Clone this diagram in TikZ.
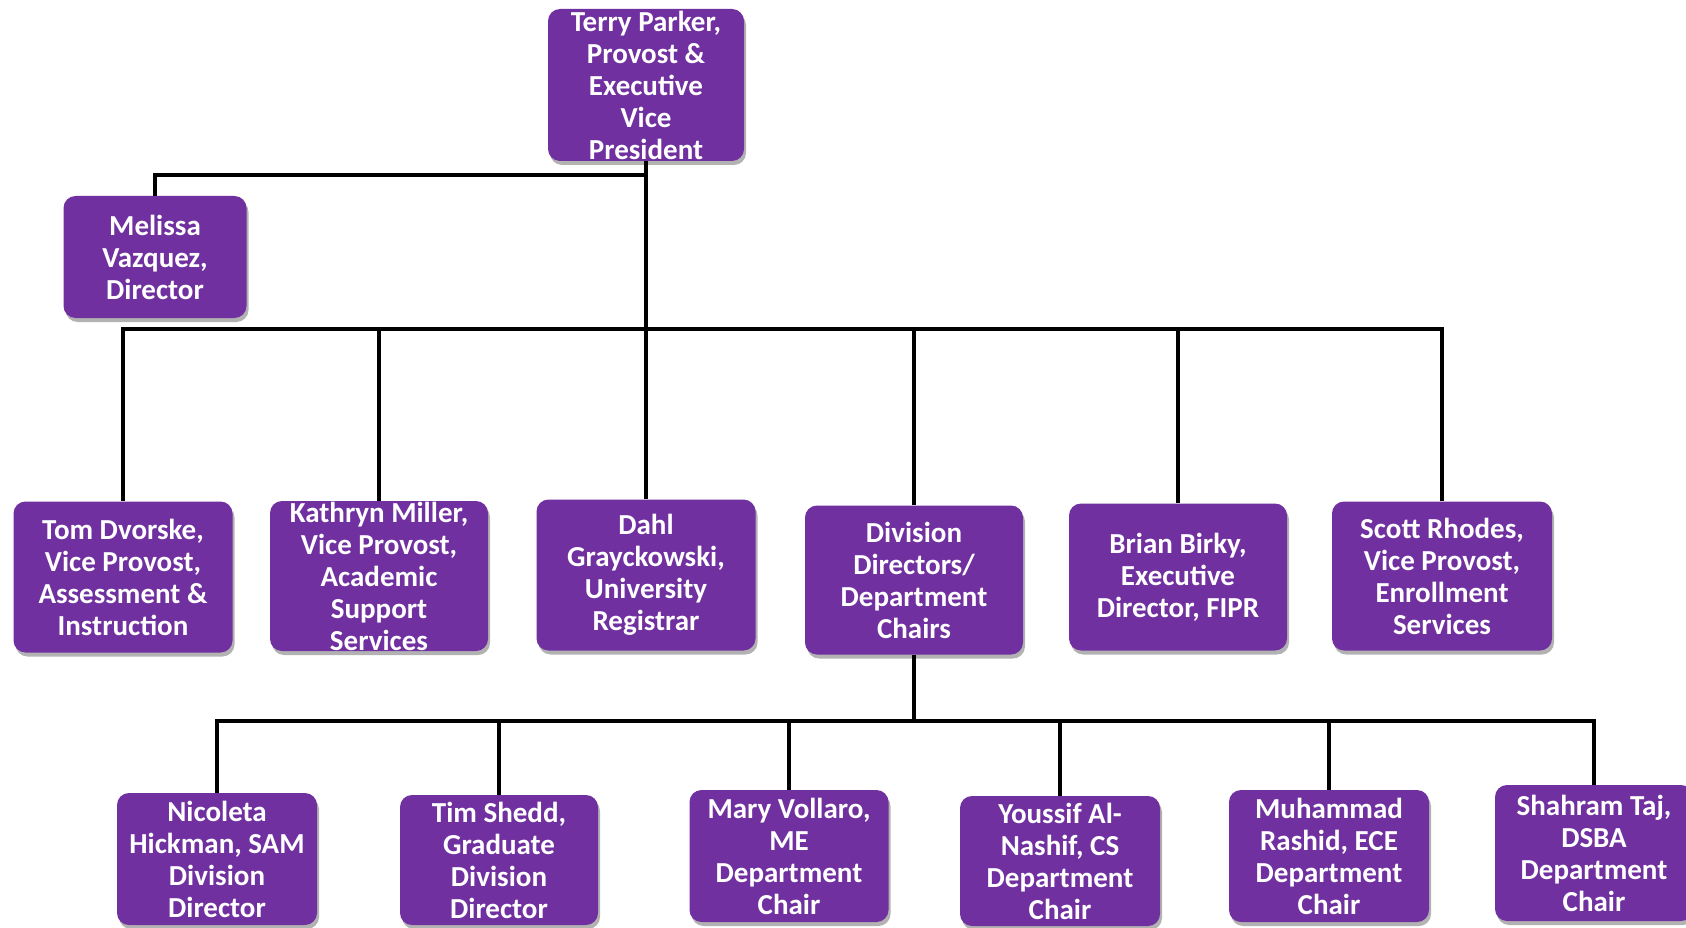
\documentclass[tikz,border=0pt]{standalone}
\usepackage{fontspec}
\setmainfont{Carlito}
\usetikzlibrary{shadows,backgrounds}
\definecolor{boxpurple}{RGB}{112,48,160}
\tikzset{
  orgbox/.style={draw=none, fill=boxpurple, rounded corners=12pt, text=white,
    font=\fontsize{29}{32}\selectfont\bfseries, align=center, inner sep=0pt,
    drop shadow={shadow xshift=2pt, shadow yshift=-4pt, fill=black, opacity=0.3}},
  link/.style={draw=black, line width=3.2pt}
}
\begin{document}
\begin{tikzpicture}[x=1pt,y=-1pt]
\useasboundingbox (0,0) rectangle (1686,928);
% level 0/1
\node[orgbox, minimum width=196pt, minimum height=152pt] (terry) at (646,85) {Terry Parker,\\Provost \&\\Executive\\Vice\\President};
\node[orgbox, minimum width=183pt, minimum height=122pt] (melissa) at (155,257) {Melissa\\Vazquez,\\Director};
% level 2
\node[orgbox, minimum width=219pt, minimum height=151pt] (tom) at (123,577) {Tom Dvorske,\\Vice Provost,\\Assessment \&\\Instruction};
\node[orgbox, minimum width=218pt, minimum height=150pt] (kathryn) at (379,576) {Kathryn Miller,\\Vice Provost,\\Academic\\Support\\Services};
\node[orgbox, minimum width=219pt, minimum height=151pt] (dahl) at (646,575) {Dahl\\Grayckowski,\\University\\Registrar};
\node[orgbox, minimum width=218pt, minimum height=149pt] (division) at (914,580) {Division\\Directors/\\Department\\Chairs};
\node[orgbox, minimum width=218pt, minimum height=147pt] (brian) at (1178,577) {Brian Birky,\\Executive\\Director, FIPR};
\node[orgbox, minimum width=220pt, minimum height=149pt] (scott) at (1442,576) {Scott Rhodes,\\Vice Provost,\\Enrollment\\Services};
% level 3
\node[orgbox, minimum width=200pt, minimum height=132pt] (nicoleta) at (217,859) {Nicoleta\\Hickman, SAM\\Division\\Director};
\node[orgbox, minimum width=198pt, minimum height=130pt] (tim) at (499,860) {Tim Shedd,\\Graduate\\Division\\Director};
\node[orgbox, minimum width=199pt, minimum height=132pt] (mary) at (789,856) {Mary Vollaro,\\ME\\Department\\Chair};
\node[orgbox, minimum width=200pt, minimum height=130pt] (youssif) at (1060,861) {Youssif Al-\\Nashif, CS\\Department\\Chair};
\node[orgbox, minimum width=200pt, minimum height=132pt] (muhammad) at (1329,856) {Muhammad\\Rashid, ECE\\Department\\Chair};
\node[orgbox, minimum width=198pt, minimum height=136pt] (shahram) at (1594,853) {Shahram Taj,\\DSBA\\Department\\Chair};
% junctions
\coordinate (j1) at (646,175);
\coordinate (j2) at (646,329);
\coordinate (j3) at (914,721);
\begin{scope}[on background layer]
\draw[link] (terry) -- (j2);
\draw[link] (j1) -| (melissa.north);
\draw[link] (j2) -| (tom.north);
\draw[link] (j2) -| (kathryn.north);
\draw[link] (j2) -- (dahl.north);
\draw[link] (j2) -| (division.north);
\draw[link] (j2) -| (brian.north);
\draw[link] (j2) -| (scott.north);
\draw[link] (division) -- (j3);
\draw[link] (j3) -| (nicoleta.north);
\draw[link] (j3) -| (tim.north);
\draw[link] (j3) -| (mary.north);
\draw[link] (j3) -| (youssif.north);
\draw[link] (j3) -| (muhammad.north);
\draw[link] (j3) -| (shahram.north);
\end{scope}
\end{tikzpicture}
\end{document}
